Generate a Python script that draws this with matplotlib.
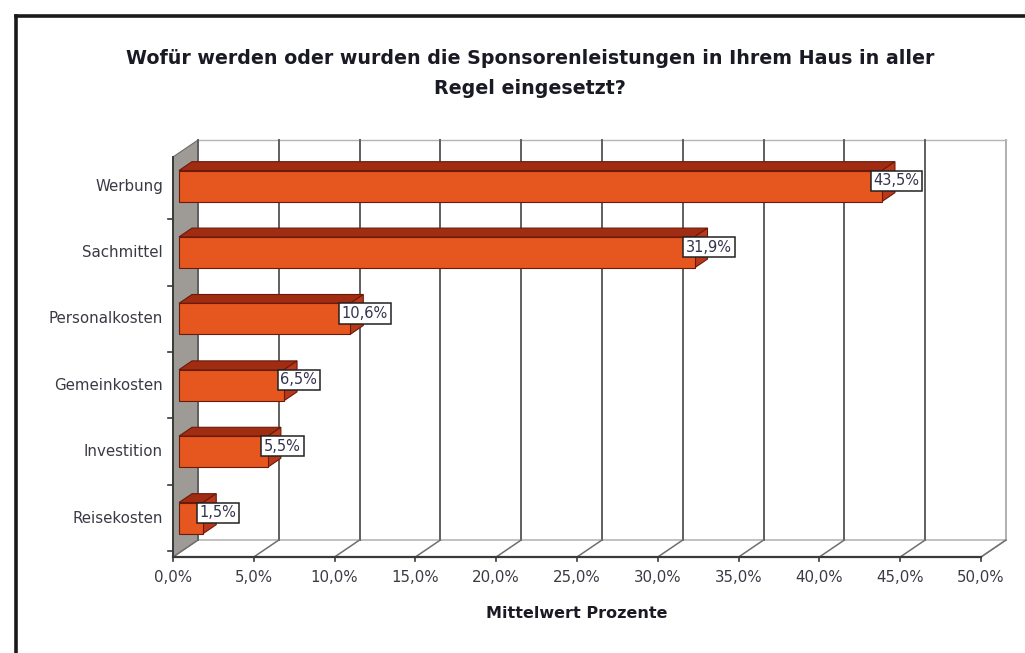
import matplotlib
matplotlib.use("Agg")
import matplotlib.pyplot as plt
from matplotlib.patches import Polygon
from matplotlib.lines import Line2D

categories = ["Werbung", "Sachmittel", "Personalkosten", "Gemeinkosten", "Investition", "Reisekosten"]
values = [43.5, 31.9, 10.6, 6.5, 5.5, 1.5]
value_labels = ["43,5%", "31,9%", "10,6%", "6,5%", "5,5%", "1,5%"]
xticks = [0, 5, 10, 15, 20, 25, 30, 35, 40, 45, 50]
xtick_labels = ["0,0%", "5,0%", "10,0%", "15,0%", "20,0%", "25,0%", "30,0%", "35,0%", "40,0%", "45,0%", "50,0%"]
title_lines = ["Wofür werden oder wurden die Sponsorenleistungen in Ihrem Haus in aller",
               "Regel eingesetzt?"]
xlabel = "Mittelwert Prozente"

W, H = 1025, 653
fig = plt.figure(figsize=(W / 100, H / 100), dpi=100)
fig.patch.set_facecolor("white")

# outer frame (left + top)
fig.add_artist(Line2D([16 / W, 16 / W], [0, 1 - 16 / H], transform=fig.transFigure, color="#1a1a1a", lw=2.6))
fig.add_artist(Line2D([16 / W, 1], [1 - 16 / H, 1 - 16 / H], transform=fig.transFigure, color="#1a1a1a", lw=2.6))

ax = fig.add_axes([173 / W, 1 - 557 / H, (981 - 173) / W, 400 / H])
xmin, xmax = 0, 50
ymin, ymax = -0.587, 5.437
ax.set_xlim(xmin, xmax)
ax.set_ylim(ymin, ymax)
ax.axis("off")

px_x = (981 - 173) / 50.0
px_y = 400 / (ymax - ymin)
dx = 25 / px_x
dy = 17 / px_y
a, b = 0.24, 0.76
hh = 15.5 / px_y

n = len(categories)
ypos = [n - 1 - i for i in range(n)]
txt_c = "#3a3a44"

# left wall
ax.add_patch(Polygon([(0, ymin), (0, ymax), (dx, ymax + dy), (dx, ymin + dy)],
                     closed=True, facecolor="#9e9b97", edgecolor="#6e6b68", lw=0.8, clip_on=False, zorder=1))
# floor
ax.add_patch(Polygon([(0, ymin), (xmax, ymin), (xmax + dx, ymin + dy), (dx, ymin + dy)],
                     closed=True, facecolor="white", edgecolor="#a8a8a8", lw=1.0, clip_on=False, zorder=1))
# back wall top
ax.plot([dx, xmax + dx], [ymax + dy, ymax + dy], color="#b5b5b5", lw=1.0, clip_on=False, zorder=1)
for xt, xl in zip(xticks, xtick_labels):
    ax.plot([xt + dx, xt + dx], [ymin + dy, ymax + dy],
            color="#5f5f5f" if xt < xmax else "#b0b0b0", lw=1.4, clip_on=False, zorder=1)
    ax.plot([xt, xt + dx], [ymin, ymin + dy], color="#6f6f6f", lw=1.1, clip_on=False, zorder=1)
    ax.plot([xt, xt], [ymin, ymin - 4 / px_y], color="#3a3a3a", lw=1.2, clip_on=False, zorder=3)
    ax.text(xt, ymin - 21 / px_y, xl, ha="center", va="center", fontsize=10.8, color=txt_c,
            family="DejaVu Sans")

# front axis lines
ax.plot([0, xmax], [ymin, ymin], color="#3a3a3a", lw=1.6, clip_on=False, zorder=3)
ax.plot([0, 0], [ymin, ymax], color="#3a3a3a", lw=1.4, clip_on=False, zorder=3)
for k in range(n + 1):
    yb = k - 0.5
    if ymin <= yb <= ymax:
        ax.plot([0, -5 / px_x], [yb, yb], color="#3a3a3a", lw=1.2, clip_on=False, zorder=3)

front_c = "#e6561f"
top_c = "#a02c12"
end_c = "#b9381a"
edge_c = "#6a1a0a"
for y, v, lab, cat in zip(ypos, values, value_labels, categories):
    x0 = a * dx
    x1 = v + a * dx
    y0, y1 = y - hh, y + hh
    ddx, ddy = (b - a) * dx, (b - a) * dy
    ax.add_patch(Polygon([(x0, y1), (x1, y1), (x1 + ddx, y1 + ddy), (x0 + ddx, y1 + ddy)],
                         closed=True, facecolor=top_c, edgecolor=edge_c, lw=0.8, clip_on=False, zorder=4))
    ax.add_patch(Polygon([(x1, y0), (x1 + ddx, y0 + ddy), (x1 + ddx, y1 + ddy), (x1, y1)],
                         closed=True, facecolor=end_c, edgecolor=edge_c, lw=0.8, clip_on=False, zorder=4))
    ax.add_patch(Polygon([(x0, y0), (x1, y0), (x1, y1), (x0, y1)],
                         closed=True, facecolor=front_c, edgecolor=edge_c, lw=0.8, clip_on=False, zorder=5))
    ax.text(v + b * dx + 0.1, y + 0.08, lab, ha="center", va="center", fontsize=10.5, color="#33334d",
            family="DejaVu Sans", zorder=7,
            bbox=dict(boxstyle="square,pad=0.18", facecolor="white", edgecolor="#222222", lw=1.1))
    ax.text(-10 / px_x, y, cat, ha="right", va="center", fontsize=10.8, color=txt_c,
            family="DejaVu Sans")

fig.text(530 / W, 1 - 58 / H, title_lines[0], ha="center", va="center", fontsize=13.7, fontweight="bold",
         color="#1a1a24", family="DejaVu Sans")
fig.text(530 / W, 1 - 89 / H, title_lines[1], ha="center", va="center", fontsize=13.7, fontweight="bold",
         color="#1a1a24", family="DejaVu Sans")
fig.text(577 / W, 1 - 614 / H, xlabel, ha="center", va="center", fontsize=11.5, fontweight="bold",
         color="#1a1a24", family="DejaVu Sans")

fig.savefig("out.png", dpi=100, facecolor="white")
